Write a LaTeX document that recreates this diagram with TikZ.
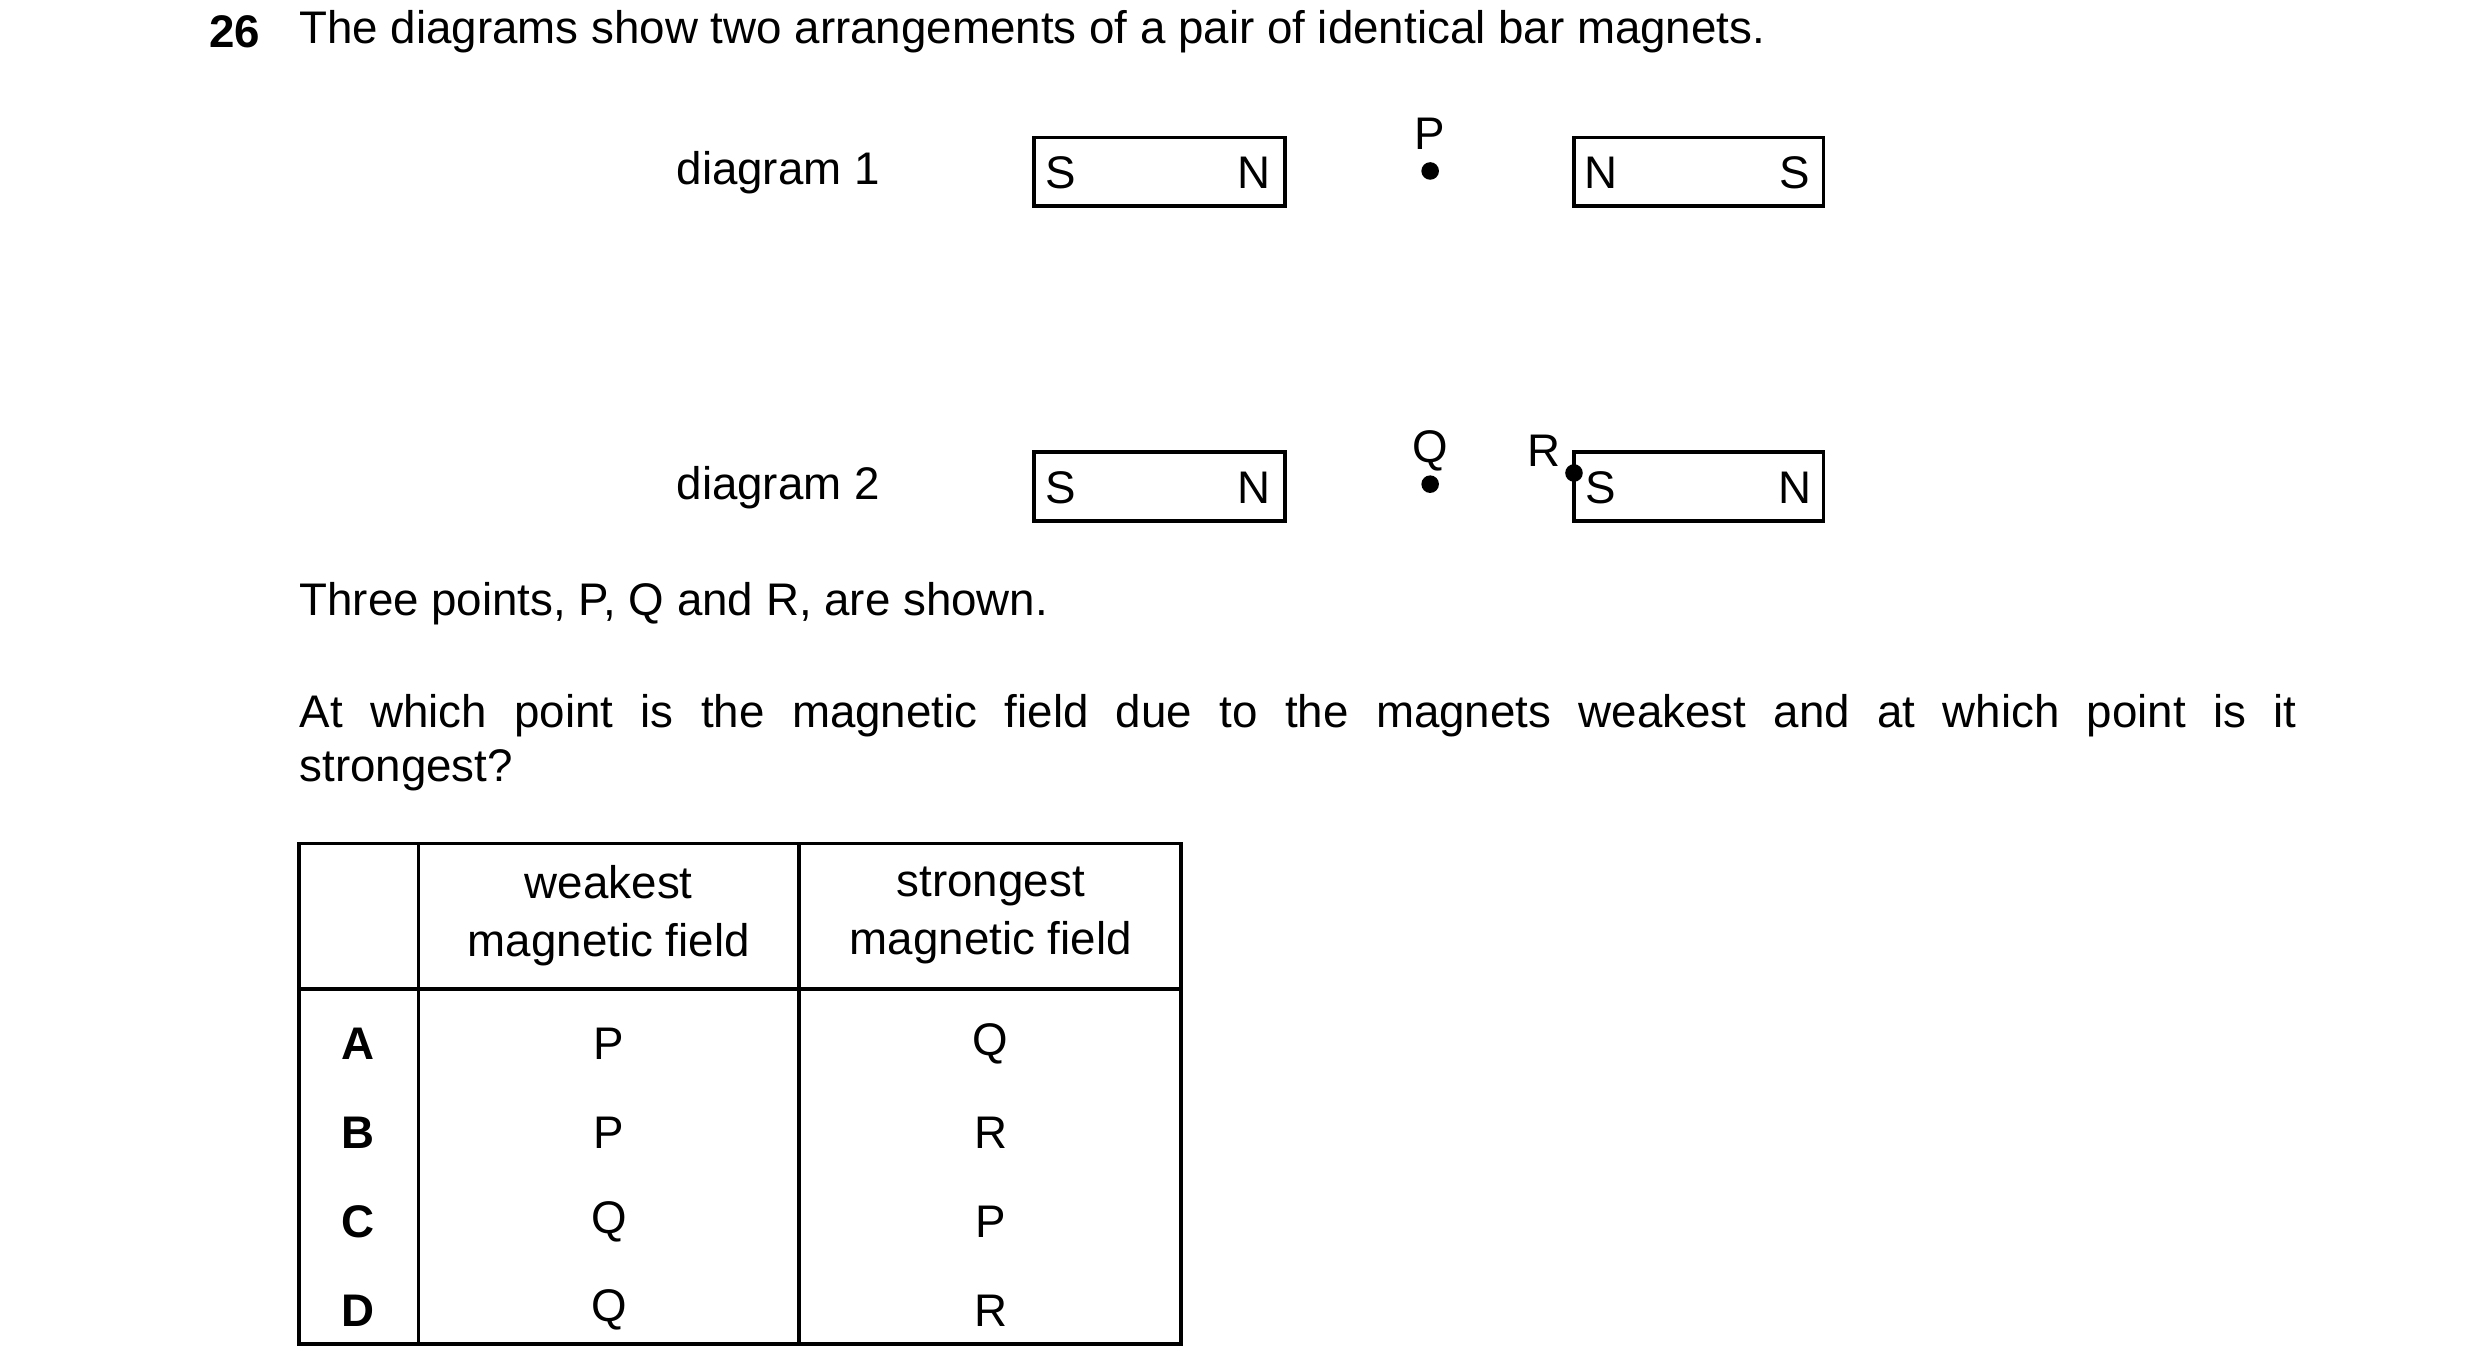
\documentclass[tikz,border=0pt]{standalone}
\usepackage{fontspec}
\setmainfont{Liberation Sans}
\usetikzlibrary{positioning}

\begin{document}
\begin{tikzpicture}[x=0.01598cm, y=-0.01598cm,
    txt/.style={inner sep=0pt, font=\fontsize{13}{15.5}\selectfont},
    magnet/.style={draw, line width=1pt},
    pole/.style={txt},
    spot/.style={circle, fill, inner sep=0pt, minimum size=5pt}
    ]
    \useasboundingbox (0,0) rectangle (1552,858);
    % heading
    \node (Num) [txt, font=\fontsize{13}{15.5}\selectfont\bfseries] at (147,20) {26};
    \node (Head) [txt, anchor=west] at (187,20) {The diagrams show two arrangements of a pair of identical bar magnets.};
    % diagram 1
    \node (Diag1) [txt] at (487,108) {diagram 1};
    \draw [magnet] (647,86) rectangle (804,129);
    \node (S1) [pole] at (664,108) {S};
    \node (N1) [pole] at (785,108) {N};
    \node (P) [spot] at (895,107) {};
    \node (Plab) [txt] at (895,84) {P};
    \draw [magnet] (985,86) rectangle (1141,129);
    \node (N2) [pole] at (1002,108) {N};
    \node (S2) [pole] at (1123,108) {S};
    % diagram 2
    \node (Diag2) [txt] at (487,305) {diagram 2};
    \draw [magnet] (647,283) rectangle (804,326);
    \node (S3) [pole] at (664,305) {S};
    \node (N3) [pole] at (785,305) {N};
    \node (Q) [spot] at (895,303) {};
    \node (Qlab) [txt] at (895,282) {Q};
    \draw [magnet] (985,283) rectangle (1141,326);
    \node (R) [spot] at (985,296) {};
    \node (Rlab) [txt] at (966,282) {R};
    \node (S4) [pole] at (1002,305) {S};
    \node (N4) [pole] at (1123,305) {N};
    % question
    \node (Pts) [txt, anchor=west] at (187,378) {Three points, P, Q and R, are shown.};
    \node (Ask) [txt, anchor=north west, text width=19.97cm, align=justify] at (187,434)
        {At which point is the magnetic field due to the magnets weakest and at which point is it\linebreak strongest?};
    % table
    \draw [line width=1pt] (187,528) rectangle (739,841);
    \draw [line width=1pt] (262,528) -- (262,841) (500,528) -- (500,841) (187,619) -- (739,619);
    \node (Hw) [txt, align=center] at (381,573) {weakest\\[1pt]magnetic field};
    \node (Hs) [txt, align=center] at (620,573) {strongest\\[1pt]magnetic field};
    \foreach \k/\w/\s [count=\i] in {A/P/Q, B/P/R, C/Q/P, D/Q/R} {
        \node (K\i) [txt, font=\fontsize{13}{15.5}\selectfont\bfseries] at (224,598+55.5*\i) {\k};
        \node (W\i) [txt] at (381,598+55.5*\i) {\w};
        \node (T\i) [txt] at (620,598+55.5*\i) {\s};
    }
\end{tikzpicture}
\end{document}
